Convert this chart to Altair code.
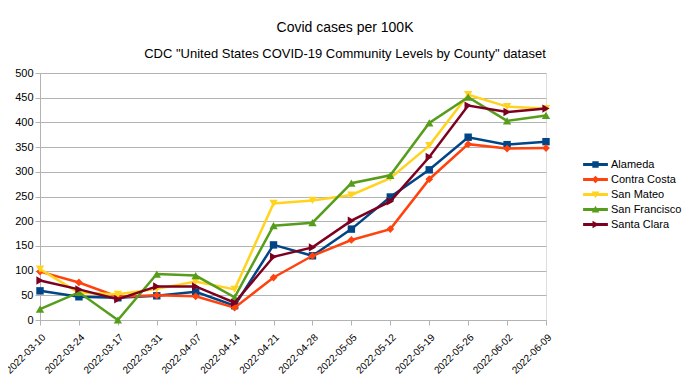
import altair as alt
import pandas as pd

dates = ["2022-03-10", "2022-03-24", "2022-03-17", "2022-03-31", "2022-04-07",
         "2022-04-14", "2022-04-21", "2022-04-28", "2022-05-05", "2022-05-12",
         "2022-05-19", "2022-05-26", "2022-06-02", "2022-06-09"]

names = ["Alameda", "Contra Costa", "San Mateo", "San Francisco", "Santa Clara"]
colors = ["#004586", "#ff420e", "#ffd320", "#579d1c", "#7e0021"]

alameda = [59, 47, 45, 49, 57, 29, 152, 130, 184, 249, 304, 370, 355, 361]
contra_costa = [98, 76, 47, 50, 48, 25, 86, 130, 162, 184, 285, 356, 347, 348]
san_mateo = [103, 55, 52, 63, 78, 62, 236, 242, 253, 287, 353, 456, 432, 428]
san_francisco = [22, 56, 0, 93, 90, 46, 191, 197, 277, 293, 399, 451, 403, 414]
santa_clara = [80, 62, 42, 68, 68, 35, 128, 147, 201, 240, 330, 434, 421, 428]

series_values = [alameda, contra_costa, san_mateo, san_francisco, santa_clara]
plot_shapes = ["square", "diamond", "triangle-down", "triangle-up", "triangle-right"]
plot_sizes = [55, 60, 70, 70, 70]

# legend symbols: a line segment with the marker in the middle (all clockwise)
line_part = "M-3.1,-0.35H3.1V0.35H-3.1Z"
legend_paths = [
    line_part + "M-0.8,-0.8H0.8V0.8H-0.8Z",
    line_part + "M0,-0.95L0.95,0L0,0.95L-0.95,0Z",
    line_part + "M-0.95,-0.75L0.95,-0.75L0,0.95Z",
    line_part + "M-0.95,0.75L0,-0.95L0.95,0.75Z",
    line_part + "M-0.75,-0.95L0.95,0L-0.75,0.95Z",
]

rows = []
for n, vals in zip(names, series_values):
    for d, v in zip(dates, vals):
        rows.append({"date": d, "series": n, "value": v})
df = pd.DataFrame(rows)

x_enc = alt.X("date:O", sort=dates, title=None,
              scale=alt.Scale(type="point", padding=0),
              axis=alt.Axis(labelAngle=315, labelFontSize=10, labelPadding=7,
                            tickSize=5, tickColor="#b3b3b3", domainColor="#b3b3b3",
                            labelColor="#000000", grid=False, labelFont="Liberation Sans"))
y_enc = alt.Y("value:Q", title=None,
              scale=alt.Scale(domain=[0, 500], nice=False),
              axis=alt.Axis(values=list(range(0, 501, 50)), labelFontSize=11,
                            tickSize=5, tickColor="#b3b3b3", domainColor="#b3b3b3",
                            gridColor="#b3b3b3", labelColor="#000000", labelPadding=2,
                            labelFont="Liberation Sans"))

layers = []
for n, c, s, sz in zip(names, colors, plot_shapes, plot_sizes):
    base = alt.Chart(df).transform_filter(alt.datum.series == n)
    layers.append(base.mark_line(color=c, strokeWidth=2.5).encode(x=x_enc, y=y_enc))
    layers.append(base.mark_point(color=c, filled=True, shape=s, size=sz, opacity=1)
                  .encode(x=x_enc, y=y_enc))

legend_layer = alt.Chart(df).transform_filter("false").mark_point(filled=True, opacity=1).encode(
    x=x_enc, y=y_enc,
    color=alt.Color("series:N", sort=names, title=None,
                    scale=alt.Scale(domain=names, range=colors),
                    legend=alt.Legend(orient="none", legendX=550, legendY=86,
                                      symbolSize=64, symbolStrokeWidth=0,
                                      labelOffset=10, labelFontSize=11,
                                      labelFont="Liberation Sans", labelColor="#000000",
                                      rowPadding=3, symbolOpacity=1)),
    shape=alt.Shape("series:N", sort=names, title=None,
                    scale=alt.Scale(domain=names, range=legend_paths)),
)
layers.append(legend_layer)

chart = alt.layer(*layers).properties(
    width=506, height=247,
    autosize=alt.AutoSizeParams(type="none"),
    padding={"left": 32, "top": 65, "right": 136, "bottom": 60},
    title=alt.TitleParams(
        text="Covid cases per 100K",
        subtitle='CDC "United States COVID-19 Community Levels by County" dataset',
        anchor="middle", dx=52, offset=6, fontSize=14, fontWeight="normal",
        subtitleFontSize=13, subtitlePadding=13, font="Liberation Sans",
        subtitleFont="Liberation Sans", color="#000000", subtitleColor="#000000",
    ),
).configure_view(stroke="#b3b3b3").configure(background="white")

chart.save("out.html", embed_options={"renderer": "svg", "actions": False})
